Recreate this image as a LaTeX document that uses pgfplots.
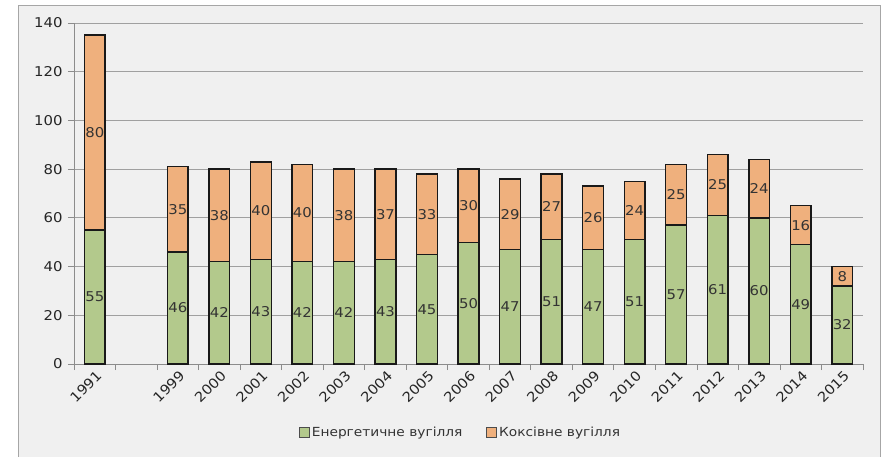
\documentclass[border=0pt]{standalone}
\usepackage{fontspec}
\setmainfont{DejaVu Sans}[FakeStretch=1.1]
\usepackage{pgfplots}
\usepackage{pgfplotstable}
\pgfplotsset{compat=1.18}
\definecolor{bg}{HTML}{F0F0F0}
\definecolor{gr}{HTML}{B3C98C}
\definecolor{org}{HTML}{EFB07D}
\definecolor{axgray}{HTML}{8C8C8C}
\definecolor{gridgray}{HTML}{A0A0A0}
\pgfplotstableread{
x e k
0 55 80
2 46 35
3 42 38
4 43 40
5 42 40
6 42 38
7 43 37
8 45 33
9 50 30
10 47 29
11 51 27
12 47 26
13 51 24
14 57 25
15 61 25
16 60 24
17 49 16
18 32 8
}\data
\begin{document}
\begin{tikzpicture}[x=1pt,y=1pt]
\useasboundingbox (0,0) rectangle (885,456);
\fill[white] (0,0) rectangle (885,456);
\draw[gray!70, fill=bg, line width=0.8pt] (18,-5) rectangle (880,451);
\begin{axis}[
  at={(74pt,92pt)}, anchor=south west,
  scale only axis, width=789pt, height=341pt,
  xmin=-0.5, xmax=18.5, ymin=0, ymax=140,
  ybar stacked, bar width=0.5,
  axis x line*=bottom, axis y line*=left,
  axis line style={axgray, line width=0.8pt},
  ytick={0,20,...,140},
  ymajorgrids, grid style={gridgray, line width=0.8pt},
  xtick={-0.5,0.5,...,18.5},
  x tick label as interval,
  xticklabels={1991,,1999,2000,2001,2002,2003,2004,2005,2006,2007,2008,2009,2010,2011,2012,2013,2014,2015},
  xticklabel style={rotate=45, anchor=north east, inner sep=1pt, yshift=1pt, xshift=2pt},
  tick align=outside, major tick length=6pt,
  tick style={axgray, line width=0.8pt},
  tick label style={font=\fontsize{13.5}{14}\selectfont, text=black!85},
  yticklabel style={xshift=-2pt},
  /pgf/number format/assume math mode=true,
  legend columns=2,
  legend style={at={(0.49,-0.202)}, anchor=center, draw=none, fill=none,
    font=\fontsize{12.5}{14}\selectfont, text=black!80,
    /tikz/every even column/.append style={column sep=22pt}},
  legend image code/.code={\draw[#1, line width=0.7pt, draw=black!70] (0pt,-4.5pt) rectangle (10pt,5.5pt);},
]
\addplot[fill=gr, draw=black!90, line width=1.4pt] table[x=x, y=e] {\data};
\addplot[fill=org, draw=black!90, line width=1.4pt] table[x=x, y=k] {\data};
\legend{Енергетичне вугілля, Коксівне вугілля}
\end{axis}
\begin{axis}[
  at={(74pt,92pt)}, anchor=south west,
  scale only axis, width=789pt, height=341pt,
  xmin=-0.5, xmax=18.5, ymin=0, ymax=140,
  hide axis, clip=false,
]
\addplot[only marks, mark=*, mark size=0pt, mark options={draw=none, fill=none},
  nodes near coords, point meta=explicit symbolic,
  nodes near coords style={anchor=center, font=\fontsize{13.5}{14}\selectfont, text=black!80}]
  table[x=x, y expr=\thisrow{e}/2, meta=e] {\data};
\addplot[only marks, mark=*, mark size=0pt, mark options={draw=none, fill=none},
  nodes near coords, point meta=explicit symbolic,
  nodes near coords style={anchor=center, font=\fontsize{13.5}{14}\selectfont, text=black!80}]
  table[x=x, y expr=\thisrow{e}+\thisrow{k}/2, meta=k] {\data};
\end{axis}
\end{tikzpicture}
\end{document}
